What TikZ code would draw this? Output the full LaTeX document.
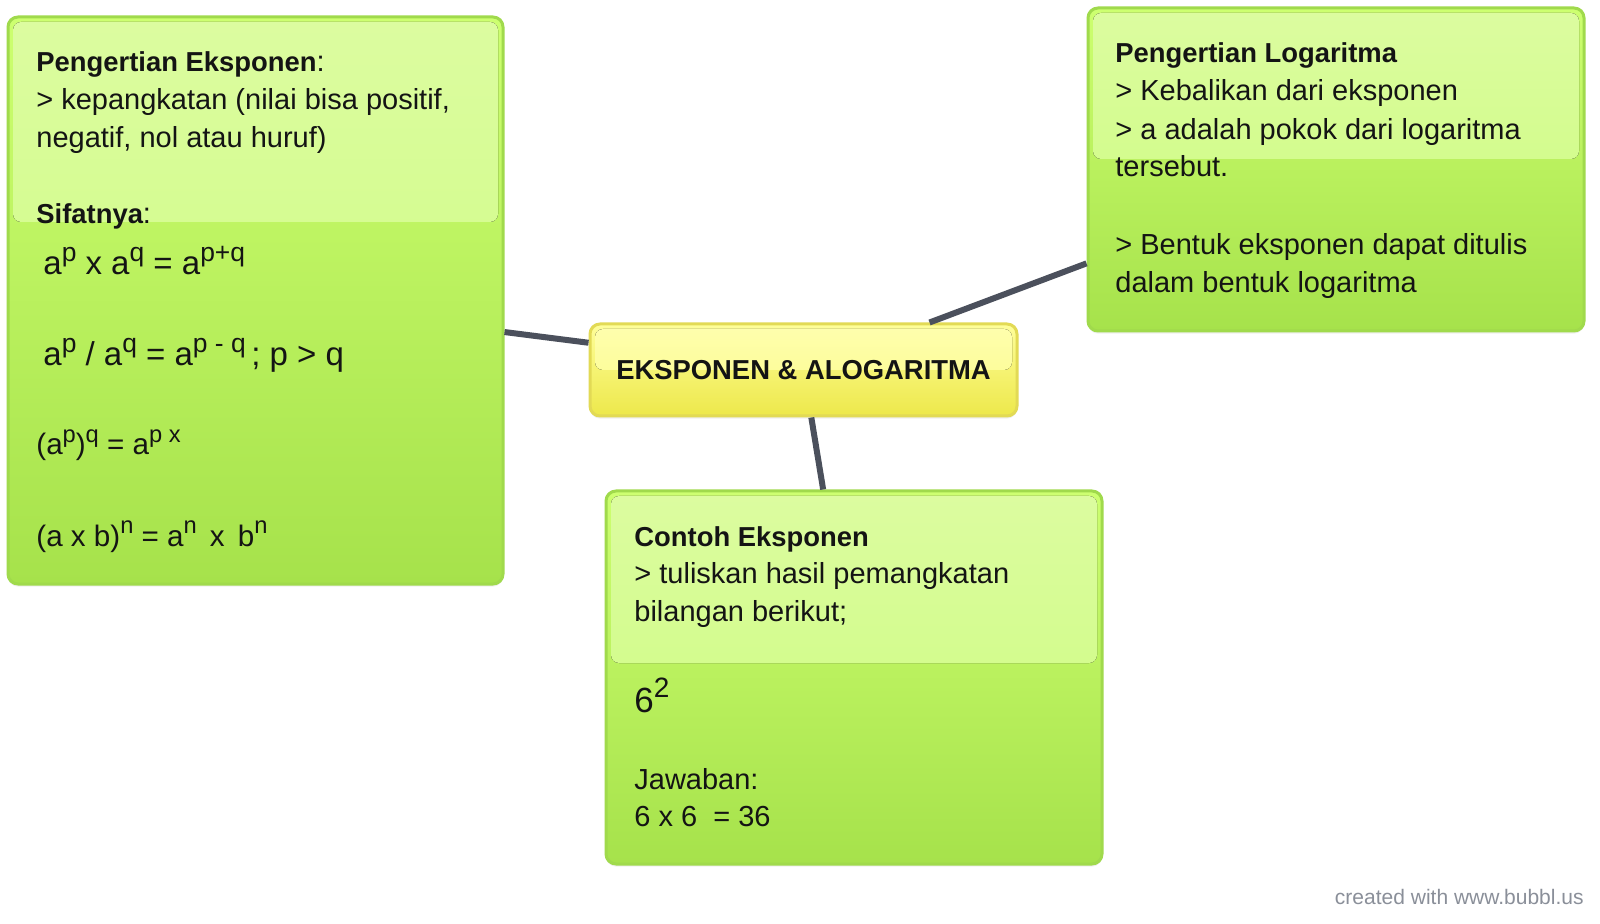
\documentclass[tikz,border=0pt]{standalone}
\usepackage{graphicx}
\usepackage{fontspec}
\setmainfont{Liberation Sans}
\usetikzlibrary{shadows}
\definecolor{ink}{HTML}{141414}
\definecolor{leaftop}{HTML}{CDFF70}
\definecolor{leafbot}{HTML}{A6E24B}
\definecolor{leafrim}{HTML}{A0DA4C}
\definecolor{glosstop}{HTML}{DCFCA0}
\definecolor{glossbot}{HTML}{CAFC7A}
\definecolor{suntop}{HTML}{FEFE9A}
\definecolor{sunbot}{HTML}{EDE84B}
\definecolor{sunrim}{HTML}{E2DA55}
\definecolor{sungloss}{HTML}{FEFEAE}
\definecolor{sunglossbot}{HTML}{FCFC8A}
\definecolor{slate}{HTML}{4B505C}
\definecolor{credit}{HTML}{8A8F99}
% superscript as the mind map sets it, and bold headings
\newcommand\pw[1]{\raisebox{0.42em}{\scalebox{0.8}{#1}}}
\newcommand\headtxt[1]{{\fontsize{13.7}{19}\selectfont\bfseries #1}}

\begin{document}
\begin{tikzpicture}[x=0.5pt, y=-0.5pt,
  every node/.style={font=\fontsize{14.5}{19}\selectfont, text=ink, inner sep=0pt},
  bubble/.style={draw=leafrim, line width=1.5pt, rounded corners=5pt,
    top color=leaftop, bottom color=leafbot,
    drop shadow={opacity=0.12, shadow xshift=0pt, shadow yshift=-1.3pt},
    path picture={\fill[top color=glosstop, bottom color=glossbot, rounded corners=4pt]
      ([shift={(2.5pt,-2.5pt)}]path picture bounding box.north west) rectangle
      ([shift={(-2.5pt,-#1)}]path picture bounding box.north east);}},
  hub/.style={bubble=23pt, draw=sunrim, top color=suntop, bottom color=sunbot,
    path picture={\fill[top color=sungloss, bottom color=sunglossbot, rounded corners=4pt]
      ([shift={(2.5pt,-2.5pt)}]path picture bounding box.north west) rectangle
      ([shift={(-2.5pt,-23pt)}]path picture bounding box.north east);},
    font=\fontsize{13.7}{16}\selectfont\bfseries},
  line/.style={anchor=base west},
  big/.style={anchor=base west, font=\fontsize{16.5}{19}\selectfont},
  mid/.style={anchor=base west, font=\fontsize{14.8}{19}\selectfont},
  wire/.style={slate, line width=3pt}]
  \fill[white] (0,0) rectangle (1600,924);
  \useasboundingbox (0,0) rectangle (1600,924);

  % the four bubbles
  \node[bubble=102.5pt, minimum width=247.5pt, minimum height=283.5pt] (eks) at (255.5,300.5) {};
  \node[hub, minimum width=213.5pt, minimum height=46pt] (hub) at (803.5,370) {EKSPONEN \& ALOGARITMA};
  \node[bubble=75.5pt, minimum width=248pt, minimum height=161.5pt] (log) at (1336,169.5) {};
  \node[bubble=86pt, minimum width=248pt, minimum height=186.5pt] (contoh) at (854,677.5) {};

  % links from the centre
  \draw[wire] (eks) -- (hub);
  \draw[wire] (hub) -- (log);
  \draw[wire] (hub) -- (contoh);

  % Pengertian Eksponen
  \node[line] (e1) at (36,72) {\headtxt{Pengertian Eksponen}:};
  \node[line] (e2) at (36,110) {> kepangkatan (nilai bisa positif,};
  \node[line] (e3) at (36,148) {negatif, nol atau huruf)};
  \node[line] (e4) at (36,224) {\headtxt{Sifatnya}:};
  \node[big] (f1) at (43,275) {a\pw{p} x a\pw{q} = a\pw{p+q}};
  \node[big] (f2) at (43,366) {a\pw{p} / a\pw{q} = a\pw{p - q}\,; p > q};
  \node[mid] (f3) at (36,455) {(a\pw{p})\pw{q} = a\pw{p x}};
  \node[mid] (f4) at (36,546) {(a x b)\pw{n} = a\pw{n}~\,x~\,b\pw{n}};

  % Pengertian Logaritma
  \node[line] (g1) at (1115,63) {\headtxt{Pengertian Logaritma}};
  \node[line] (g2) at (1115,101) {> Kebalikan dari eksponen};
  \node[line] (g3) at (1115,140) {> a adalah pokok dari logaritma};
  \node[line] (g4) at (1115,177) {tersebut.};
  \node[line] (g5) at (1115,255) {> Bentuk eksponen dapat ditulis};
  \node[line] (g6) at (1115,293) {dalam bentuk logaritma};

  % Contoh Eksponen
  \node[line] (c1) at (634,546) {\headtxt{Contoh Eksponen}};
  \node[line] (c2) at (634,583) {> tuliskan hasil pemangkatan};
  \node[line] (c3) at (634,621) {bilangan berikut;};
  \node[big, font=\fontsize{17.5}{19}\selectfont] (c4) at (634,712) {6\pw{2}};
  \node[line] (c5) at (634,789) {Jawaban:};
  \node[line] (c6) at (634,826) {6 x 6\ \ = 36};

  \node[anchor=base east, font=\fontsize{10.5}{12}\selectfont, text=credit] (credit) at (1584,904) {created with www.bubbl.us};
\end{tikzpicture}
\end{document}
